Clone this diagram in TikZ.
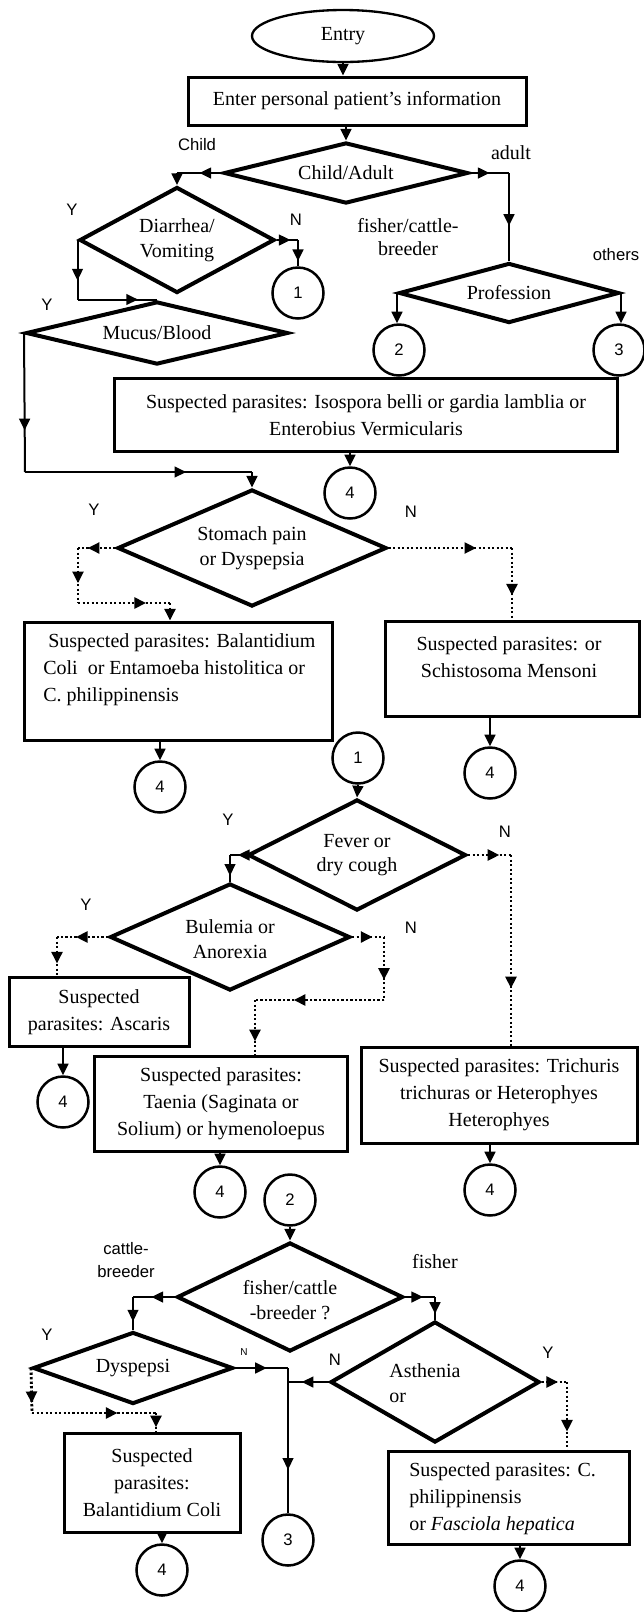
\documentclass[tikz,border=0pt]{standalone}
\usepackage{fontspec}
\setmainfont{Liberation Serif}
\newfontfamily\lsans{Liberation Sans}
\usetikzlibrary{shapes.geometric,arrows.meta,decorations.markings,calc}
\begin{document}
\begin{tikzpicture}[x=0.6pt,y=-0.6pt,
  >={Triangle[length=7pt,width=6.5pt]},
  serif/.style={font=\fontsize{12}{16.2}\selectfont},
  txt/.style={font=\fontsize{12}{14.8}\selectfont, inner sep=0pt, align=center},
  lab/.style={font=\lsans\fontsize{10}{14}\selectfont, inner sep=0pt, align=center},
  slab/.style={font=\fontsize{12}{14}\selectfont, inner sep=0pt, align=center},
  dia/.style 2 args={diamond, draw, line width=2.4pt, minimum width=#1*0.6pt, minimum height=#2*0.6pt, inner sep=0pt},
  box/.style 2 args={rectangle, draw, line width=1.8pt, minimum width=#1*0.6pt, minimum height=#2*0.6pt, inner sep=0pt, serif, align=center},
  circ/.style={circle, draw, line width=1.5pt, minimum size=51*0.6pt, inner sep=0pt, font=\lsans\fontsize{10}{12}\selectfont},
  conn/.style={line width=1.2pt},
  dotl/.style={line width=1.7pt, dash pattern=on 1.4pt off 1.3pt},
  arr/.style={postaction={decorate,decoration={markings,mark=at position #1 with {\arrow{>}}}}},
]
\fill[white] (0,0) rectangle (644,1612);
\useasboundingbox (0,0) rectangle (644,1612);

% ---------- nodes ----------
\node[ellipse, draw, line width=1.4pt, minimum width=182*0.6pt, minimum height=52*0.6pt, inner sep=0pt, serif] (entry) at (343,36) {Entry};
\node[box={338}{48}] (info) at (357,101) {Enter personal patient's information};

\node[dia={244}{61}] (ca) at (346,173) {};
\node[txt] (catxt) at (ca) {Child/Adult};

\node[dia={195}{106}] (diar) at (177,240) {};
\node[txt] (diartxt) at (177,240) {Diarrhea/\\Vomiting};

\node[circ] (c1a) at (298,293) {1};

\node[dia={220}{60}] (prof) at (509,293) {};
\node[txt] (proftxt) at (prof) {Profession};
\node[circ] (c2a) at (399,350) {2};
\node[circ] (c3a) at (619,350) {3};

\node[dia={262}{63}] (mucus) at (157,333) {};
\node[txt] (mucustxt) at (mucus) {Mucus/Blood};

\node[box={503}{73}] (box1) at (366,415) {Suspected parasites: Isospora belli or gardia lamblia or\\Enterobius Vermicularis};
\node[circ] (c4a) at (350,493) {4};

\node[dia={269}{117}] (stom) at (252,548) {};
\node[txt] (stomtxt) at (252,548) {Stomach pain\\or Dyspepsia};

\node[box={308}{118}] (box2) at (178,681) {};
\node[serif, inner sep=0pt, align=left, anchor=west] (box2txt) at (43,670) {\hspace*{3pt}Suspected parasites: Balantidium\\Coli\ \ or Entamoeba histolitica or\\C. philippinensis};
\node[box={254}{95}] (box3) at (512,669) {};
\node[serif, inner sep=0pt, align=center] (box3txt) at (509,657) {Suspected parasites: or\\Schistosoma Mensoni};

\node[circ] (c4b) at (160,787) {4};
\node[circ] (c4c) at (490,773) {4};
\node[circ] (c1b) at (358,758) {1};

\node[dia={218}{111}] (fever) at (357,855) {};
\node[txt] (fevertxt) at (357,855) {Fever or\\dry cough};

\node[dia={240}{107}] (bul) at (230,937) {};
\node[txt] (bultxt) at (230,939) {Bulemia or\\Anorexia};

\node[box={180}{69}] (asc) at (99,1012) {Suspected\\parasites: Ascaris};
\node[circ] (c4d) at (63,1102) {4};
\node[box={253}{95}] (taen) at (221,1104) {Suspected parasites:\\Taenia (Saginata or\\Solium) or hymenoloepus};
\node[box={276}{96}] (tri) at (499,1095) {Suspected parasites: Trichuris\\trichuras or Heterophyes\\Heterophyes};
\node[circ] (c4e) at (220,1192) {4};
\node[circ] (c4f) at (490,1190) {4};
\node[circ] (c2b) at (290,1200) {2};

\node[dia={226}{109}] (fish) at (290,1297) {};
\node[txt] (fishtxt) at (290,1300) {fisher/cattle\\-breeder ?};

\node[dia={200}{72}] (dysp) at (133,1368) {};
\node[txt] (dysptxt) at (dysp) {Dyspepsi};

\node[dia={209}{121}] (asth) at (435,1382) {};
\node[txt, align=left] (asthtxt) at (425,1383) {Asthenia\\or};

\node[box={176}{99}] (bcoli) at (152,1483) {Suspected\\parasites:\\Balantidium Coli};
\node[circ] (c3b) at (288,1540) {3};
\node[box={241}{93}] (cphil) at (509,1498) {};
\node[serif, inner sep=0pt, align=left, anchor=west] (cphiltxt) at (409,1499) {Suspected parasites: C.\\philippinensis\\or \textit{Fasciola hepatica}};
\node[circ] (c4g) at (162,1570) {4};
\node[circ] (c4h) at (520,1586) {4};

% ---------- labels ----------
\node[lab] (lchild) at (197,145) {Child};
\node[slab] (ladult) at (511,153) {adult};
\node[lab] (ly1) at (72,210) {Y};
\node[lab] (ln1) at (296,220) {N};
\node[slab] (lfc) at (408,237) {fisher/cattle-\\breeder};
\node[lab] (lothers) at (616,255) {others};
\node[lab] (ly2) at (47,305) {Y};
\node[lab] (ly3) at (94,510) {Y};
\node[lab] (ln3) at (411,512) {N};
\node[lab] (ly4) at (228,820) {Y};
\node[lab] (ln4) at (505,832) {N};
\node[lab] (ly5) at (86,905) {Y};
\node[lab] (ln5) at (411,928) {N};
\node[lab] (lcb) at (126,1260) {cattle-\\breeder};
\node[slab] (lfisher) at (435,1262) {fisher};
\node[lab] (ly6) at (47,1335) {Y};
\node[lab, font=\lsans\fontsize{6}{7}\selectfont] (ln6) at (244,1352) {N};
\node[lab] (ln7) at (335,1360) {N};
\node[lab] (ly7) at (548,1353) {Y};

% ---------- connectors ----------
\draw[conn,->] (entry.south) -- (entry.south |- info.north);
\draw[conn,->] (ca.north |- info.south) -- (ca.north);

% Child
\coordinate (k1) at (diar.north |- ca.west);
\draw[conn,arr=0.5] (ca.west) -- (k1);
\draw[conn,->] (k1) -- (diar.north);
% adult
\coordinate (k2) at (prof.north |- ca.east);
\draw[conn,arr=0.5] (ca.east) -- (k2);
\draw[conn,arr=0.6] (k2) -- (prof.north);
% Diarrhea N
\coordinate (k3) at (c1a.north |- diar.east);
\draw[conn,arr=0.65] (diar.east) -- (k3);
\draw[conn,arr=0.8] (k3) -- (c1a.north);
% Diarrhea Y
\coordinate (k4) at (diar.west |- mucus.north);
\draw[conn,arr=0.68] (diar.west) -- (k4);
\draw[conn,arr=0.76] (k4) -- (mucus.north);
% Profession
\draw[conn,->] (prof.west) -- (prof.west |- c2a.north);
\draw[conn,->] (prof.east) -- (prof.east |- c3a.north);
% Mucus Y
\coordinate (k5) at (25,472);
\coordinate (k6) at (stom.north |- k5);
\draw[conn,arr=0.7] (mucus.west) -- (k5);
\draw[conn,arr=0.71] (k5) -- (k6);
\draw[conn,->] (k6) -- (stom.north);
% box1 -> 4
\draw[conn,->] (c4a.north |- box1.south) -- (c4a.north);
% Stomach Y
\coordinate (k7) at (78,548);
\coordinate (k8) at (78,603);
\coordinate (k9) at (170,603);
\draw[dotl,arr=0.74] (stom.west) -- (k7);
\draw[dotl,arr=0.64] (k7) -- (k8);
\draw[dotl,arr=0.74] (k8) -- (k9);
\draw[dotl,->] (k9) -- (k9 |- box2.north);
% Stomach N
\coordinate (k10) at (box3.north |- stom.east);
\draw[dotl,arr=0.71] (stom.east) -- (k10);
\draw[dotl,arr=0.66] (k10) -- (box3.north);
% boxes -> 4
\draw[conn,->] (c4b.north |- box2.south) -- (c4b.north);
\draw[conn,->] (c4c.north |- box3.south) -- (c4c.north);
% 1 -> Fever
\draw[conn,->] (c1b.south) -- (fever.north);
% Fever Y
\coordinate (k11) at (bul.north |- fever.west);
\draw[conn,arr=0.5] (fever.west) -- (k11);
\draw[conn,arr=0.78] (k11) -- (bul.north);
% Fever N
\coordinate (k12) at (511,855);
\draw[dotl,arr=0.73] (fever.east) -- (k12);
\draw[dotl,arr=0.7] (k12) -- (k12 |- tri.north);
% Bulemia Y
\coordinate (k13) at (57,937);
\draw[dotl,arr=0.63] (bul.west) -- (k13);
\draw[dotl,arr=0.68] (k13) -- (k13 |- asc.north);
% Bulemia N
\coordinate (k14) at (384,937);
\coordinate (k15) at (384,1000);
\coordinate (k16) at (255,1000);
\draw[dotl,arr=0.64] (bul.east) -- (k14);
\draw[dotl,arr=0.68] (k14) -- (k15);
\draw[dotl,arr=0.7] (k15) -- (k16);
\draw[dotl,arr=0.75] (k16) -- (k16 |- taen.north);
% boxes -> 4
\draw[conn,->] (c4d.north |- asc.south) -- (c4d.north);
\draw[conn,->] (c4e.north |- taen.south) -- (c4e.north);
\draw[conn,->] (c4f.north |- tri.south) -- (c4f.north);
% 2 -> fisher/cattle
\draw[conn,->] (c2b.south) -- (fish.north);
% cattle-breeder
\coordinate (k17) at (dysp.north |- fish.west);
\draw[conn,arr=0.56] (fish.west) -- (k17);
\draw[conn,arr=0.74] (k17) -- (dysp.north);
% fisher
\coordinate (k18) at (asth.north |- fish.east);
\draw[conn,arr=0.6] (fish.east) -- (k18);
\draw[conn,arr=0.75] (k18) -- (asth.north);
% Dyspepsi N, Asthenia N -> 3
\coordinate (j1) at (c3b.north |- dysp.east);
\coordinate (j2) at (c3b.north |- asth.west);
\draw[conn,arr=0.6] (dysp.east) -- (j1);
\draw[conn,arr=0.66] (asth.west) -- (j2);
\draw[conn,arr=0.7] (j1) -- (c3b.north);
% Dyspepsi Y
\coordinate (k19) at (32,1413);
\coordinate (k20) at (156,1413);
\draw[dotl,arr=0.78] (dysp.west) -- (k19);
\draw[dotl,arr=0.69] (k19) -- (k20);
\draw[dotl,arr=0.75] (k20) -- (k20 |- bcoli.north);
% Asthenia Y
\coordinate (k21) at (567,1382);
\draw[dotl,arr=0.65] (asth.east) -- (k21);
\draw[dotl,arr=0.73] (k21) -- (k21 |- cphil.north);
% boxes -> 4
\draw[conn,->] (c4g.north |- bcoli.south) -- (c4g.north);
\draw[conn,->] (c4h.north |- cphil.south) -- (c4h.north);
\end{tikzpicture}
\end{document}
